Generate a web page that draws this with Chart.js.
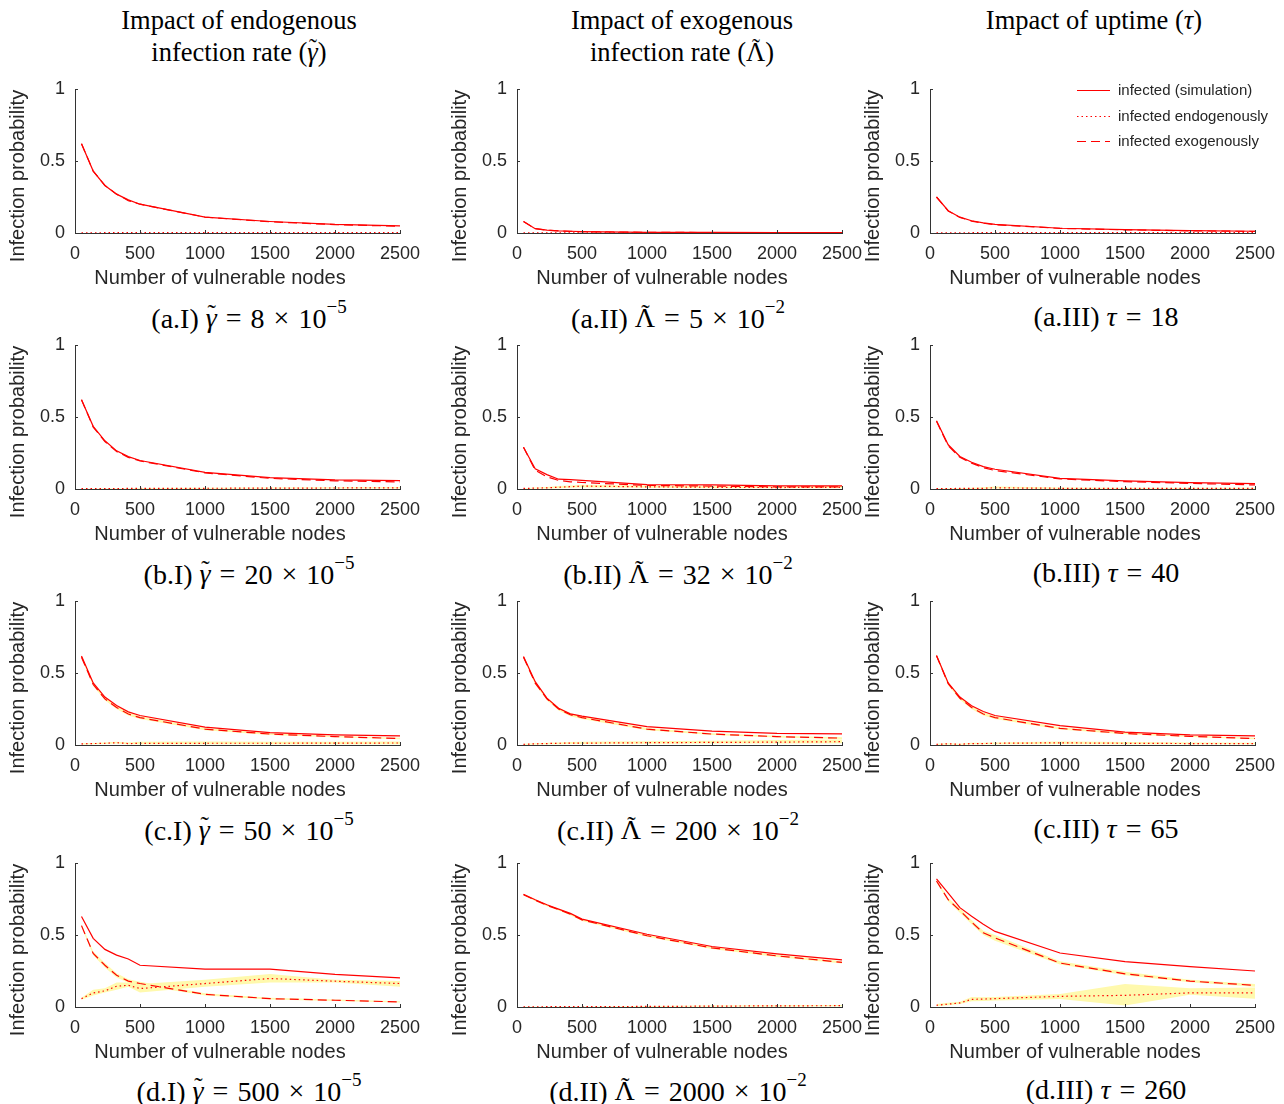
<!DOCTYPE html>
<html>
<head>
<meta charset="utf-8">
<script src="https://cdn.jsdelivr.net/npm/chart.js@4/dist/chart.umd.min.js"></script>
<style>
  body { margin: 0; background: #fff; }
  #page { position: relative; width: 1284px; height: 1104px; overflow: hidden; }
  .panel { position: absolute; }
  .txt {
    position: absolute; transform: translate(-50%, -50%);
    font-family: "Liberation Serif", "DejaVu Serif", serif; font-size: 26.5px;
    color: #000; white-space: nowrap; line-height: 1;
  }
  .cap { font-size: 28px; }
  .txt sup { font-size: 19px; position: relative; top: -4px; }
  .op { margin: 0 9px; }
  .tl { position: relative; display: inline-block; }
  .tl::after {
    content: '\02DC'; position: absolute; left: 50%; top: -0.14em;
    transform: translateX(-45%); font-style: normal; font-size: 0.9em;
  }
</style>
</head>
<body>
<div id="page">
  <div class="txt" style="left:239px;top:20px">Impact of endogenous</div>
  <div class="txt" style="left:239px;top:52px">infection rate (<i class="tl">γ</i>)</div>
  <div class="txt" style="left:682px;top:20px">Impact of exogenous</div>
  <div class="txt" style="left:682px;top:52px">infection rate (<span class="tl">Λ</span>)</div>
  <div class="txt" style="left:1094px;top:20px">Impact of uptime (<i>τ</i>)</div>

  <div class="txt cap" style="left:249px;top:317px">(a.I) <i class="tl">γ</i><span class="op">=</span>8<span class="op">×</span>10<sup>−5</sup></div>
  <div class="txt cap" style="left:678px;top:317px">(a.II) <span class="tl">Λ</span><span class="op">=</span>5<span class="op">×</span>10<sup>−2</sup></div>
  <div class="txt cap" style="left:1106px;top:317px">(a.III) <i>τ</i><span class="op">=</span>18</div>
  <div class="txt cap" style="left:249px;top:573px">(b.I) <i class="tl">γ</i><span class="op">=</span>20<span class="op">×</span>10<sup>−5</sup></div>
  <div class="txt cap" style="left:678px;top:573px">(b.II) <span class="tl">Λ</span><span class="op">=</span>32<span class="op">×</span>10<sup>−2</sup></div>
  <div class="txt cap" style="left:1106px;top:573px">(b.III) <i>τ</i><span class="op">=</span>40</div>
  <div class="txt cap" style="left:249px;top:829px">(c.I) <i class="tl">γ</i><span class="op">=</span>50<span class="op">×</span>10<sup>−5</sup></div>
  <div class="txt cap" style="left:678px;top:829px">(c.II) <span class="tl">Λ</span><span class="op">=</span>200<span class="op">×</span>10<sup>−2</sup></div>
  <div class="txt cap" style="left:1106px;top:829px">(c.III) <i>τ</i><span class="op">=</span>65</div>
  <div class="txt cap" style="left:249px;top:1090px">(d.I) <i class="tl">γ</i><span class="op">=</span>500<span class="op">×</span>10<sup>−5</sup></div>
  <div class="txt cap" style="left:678px;top:1090px">(d.II) <span class="tl">Λ</span><span class="op">=</span>2000<span class="op">×</span>10<sup>−2</sup></div>
  <div class="txt cap" style="left:1106px;top:1090px">(d.III) <i>τ</i><span class="op">=</span>260</div>
</div>
<script>
// x positions shared by every panel (number of vulnerable nodes)
const nodes = [50, 140, 230, 320, 410, 500, 1000, 1500, 2000, 2500];
const xTicks = [0, 500, 1000, 1500, 2000, 2500];
const yTicks = [0, 0.5, 1];
const seriesNames = ['infected (simulation)', 'infected endogenously', 'infected exogenously'];

// row a
const aI_sim  = [0.62, 0.43, 0.33, 0.27, 0.23, 0.20, 0.11, 0.08, 0.06, 0.05];
const aI_exo  = [0.62, 0.43, 0.33, 0.27, 0.225, 0.20, 0.11, 0.078, 0.058, 0.047];
const aI_endo = [0.001, 0.001, 0.002, 0.002, 0.002, 0.002, 0.002, 0.002, 0.002, 0.002];

const aII_sim  = [0.08, 0.03, 0.02, 0.015, 0.012, 0.01, 0.005, 0.004, 0.003, 0.002];
const aII_exo  = [0.08, 0.03, 0.019, 0.014, 0.011, 0.009, 0.005, 0.003, 0.002, 0.002];
const aII_endo = [0.001, 0.001, 0.001, 0.001, 0.001, 0.001, 0.001, 0.001, 0.001, 0.001];

const aIII_sim  = [0.25, 0.155, 0.11, 0.085, 0.07, 0.06, 0.033, 0.023, 0.016, 0.012];
const aIII_exo  = [0.25, 0.153, 0.108, 0.083, 0.068, 0.058, 0.032, 0.022, 0.015, 0.011];
const aIII_endo = [0.001, 0.001, 0.001, 0.002, 0.002, 0.002, 0.002, 0.002, 0.002, 0.002];

// row b
const bI_sim      = [0.62, 0.435, 0.335, 0.265, 0.225, 0.198, 0.116, 0.079, 0.063, 0.058];
const bI_exo      = [0.62, 0.43, 0.33, 0.26, 0.22, 0.195, 0.112, 0.074, 0.057, 0.049];
const bI_endo     = [0.002, 0.002, 0.003, 0.003, 0.004, 0.004, 0.005, 0.006, 0.007, 0.008];
const bI_endoLow  = [0.001, 0.001, 0.001, 0.001, 0.002, 0.002, 0.002, 0.003, 0.003, 0.003];
const bI_endoHigh = [0.003, 0.004, 0.005, 0.005, 0.006, 0.007, 0.009, 0.011, 0.012, 0.014];

const bII_sim      = [0.29, 0.14, 0.1, 0.068, 0.065, 0.06, 0.03, 0.028, 0.022, 0.022];
const bII_exo      = [0.29, 0.13, 0.085, 0.06, 0.05, 0.045, 0.025, 0.02, 0.015, 0.015];
const bII_endo     = [0.004, 0.006, 0.008, 0.012, 0.016, 0.02, 0.015, 0.012, 0.01, 0.012];
const bII_endoLow  = [0.002, 0.003, 0.004, 0.006, 0.008, 0.01, 0.008, 0.006, 0.005, 0.006];
const bII_endoHigh = [0.006, 0.01, 0.014, 0.02, 0.025, 0.03, 0.025, 0.02, 0.018, 0.02];

const bIII_sim      = [0.474, 0.307, 0.226, 0.186, 0.155, 0.137, 0.074, 0.056, 0.044, 0.037];
const bIII_exo      = [0.47, 0.3, 0.22, 0.18, 0.148, 0.128, 0.07, 0.051, 0.039, 0.028];
const bIII_endo     = [0.003, 0.003, 0.004, 0.004, 0.005, 0.008, 0.005, 0.004, 0.004, 0.005];
const bIII_endoLow  = [0.001, 0.001, 0.002, 0.002, 0.002, 0.003, 0.002, 0.002, 0.002, 0.002];
const bIII_endoHigh = [0.005, 0.006, 0.007, 0.008, 0.012, 0.018, 0.01, 0.008, 0.008, 0.009];

// row c
const cI_sim      = [0.618, 0.431, 0.333, 0.275, 0.23, 0.205, 0.124, 0.086, 0.07, 0.063];
const cI_exo      = [0.61, 0.42, 0.32, 0.26, 0.215, 0.19, 0.11, 0.076, 0.058, 0.045];
const cI_exoLow   = [0.6, 0.41, 0.31, 0.25, 0.205, 0.18, 0.102, 0.07, 0.053, 0.04];
const cI_exoHigh  = [0.62, 0.43, 0.33, 0.27, 0.225, 0.2, 0.118, 0.082, 0.063, 0.05];
const cI_endo     = [0.008, 0.01, 0.012, 0.016, 0.01, 0.011, 0.012, 0.012, 0.013, 0.014];
const cI_endoLow  = [0.004, 0.006, 0.007, 0.01, 0.006, 0.005, 0.005, 0.005, 0.006, 0.006];
const cI_endoHigh = [0.012, 0.014, 0.017, 0.022, 0.018, 0.022, 0.024, 0.022, 0.022, 0.024];

const cII_sim      = [0.615, 0.44, 0.325, 0.255, 0.216, 0.2, 0.128, 0.097, 0.081, 0.077];
const cII_exo      = [0.61, 0.43, 0.32, 0.25, 0.21, 0.19, 0.11, 0.076, 0.058, 0.048];
const cII_exoLow   = [0.6, 0.42, 0.31, 0.24, 0.2, 0.18, 0.102, 0.07, 0.052, 0.042];
const cII_exoHigh  = [0.62, 0.44, 0.33, 0.26, 0.22, 0.2, 0.118, 0.082, 0.064, 0.054];
const cII_endo     = [0.005, 0.008, 0.01, 0.012, 0.013, 0.013, 0.016, 0.018, 0.02, 0.023];
const cII_endoLow  = [0.002, 0.004, 0.005, 0.006, 0.007, 0.007, 0.009, 0.01, 0.011, 0.012];
const cII_endoHigh = [0.008, 0.012, 0.015, 0.018, 0.02, 0.022, 0.026, 0.03, 0.034, 0.038];

const cIII_sim      = [0.622, 0.431, 0.333, 0.273, 0.233, 0.205, 0.135, 0.089, 0.07, 0.063];
const cIII_exo      = [0.62, 0.425, 0.325, 0.26, 0.215, 0.19, 0.115, 0.08, 0.06, 0.045];
const cIII_exoLow   = [0.61, 0.415, 0.315, 0.25, 0.205, 0.18, 0.107, 0.074, 0.055, 0.04];
const cIII_exoHigh  = [0.63, 0.435, 0.335, 0.27, 0.225, 0.2, 0.123, 0.086, 0.065, 0.05];
const cIII_endo     = [0.005, 0.008, 0.005, 0.01, 0.01, 0.012, 0.015, 0.012, 0.01, 0.01];
const cIII_endoLow  = [0.002, 0.004, 0.002, 0.005, 0.005, 0.006, 0.007, 0.006, 0.005, 0.005];
const cIII_endoHigh = [0.008, 0.012, 0.009, 0.016, 0.016, 0.018, 0.024, 0.02, 0.018, 0.016];

// row d
const dI_sim      = [0.628, 0.477, 0.40, 0.36, 0.333, 0.29, 0.263, 0.263, 0.226, 0.202];
const dI_exo      = [0.565, 0.372, 0.29, 0.22, 0.18, 0.163, 0.088, 0.058, 0.047, 0.035];
const dI_exoLow   = [0.555, 0.36, 0.275, 0.205, 0.168, 0.152, 0.08, 0.052, 0.042, 0.031];
const dI_exoHigh  = [0.575, 0.385, 0.305, 0.235, 0.192, 0.175, 0.096, 0.064, 0.052, 0.04];
const dI_endo     = [0.058, 0.098, 0.112, 0.144, 0.151, 0.128, 0.163, 0.198, 0.179, 0.163];
const dI_endoLow  = [0.05, 0.08, 0.1, 0.12, 0.14, 0.1, 0.14, 0.17, 0.17, 0.14];
const dI_endoHigh = [0.065, 0.12, 0.13, 0.17, 0.17, 0.16, 0.19, 0.23, 0.19, 0.18];

const dII_sim      = [0.783, 0.745, 0.71, 0.68, 0.65, 0.61, 0.505, 0.42, 0.369, 0.327];
const dII_exo      = [0.78, 0.742, 0.706, 0.676, 0.645, 0.605, 0.495, 0.41, 0.355, 0.31];
const dII_exoLow   = [0.775, 0.736, 0.7, 0.67, 0.638, 0.598, 0.488, 0.402, 0.347, 0.302];
const dII_exoHigh  = [0.785, 0.748, 0.712, 0.682, 0.652, 0.612, 0.502, 0.418, 0.363, 0.318];
const dII_endo     = [0.001, 0.001, 0.002, 0.002, 0.002, 0.002, 0.004, 0.006, 0.008, 0.009];
const dII_endoLow  = [0, 0, 0.001, 0.001, 0.001, 0.001, 0.002, 0.003, 0.004, 0.005];
const dII_endoHigh = [0.002, 0.002, 0.003, 0.003, 0.004, 0.004, 0.007, 0.01, 0.013, 0.014];

const dIII_sim      = [0.89, 0.79, 0.69, 0.63, 0.575, 0.525, 0.375, 0.315, 0.28, 0.25];
const dIII_exo      = [0.875, 0.745, 0.67, 0.59, 0.515, 0.48, 0.305, 0.23, 0.18, 0.15];
const dIII_exoLow   = [0.865, 0.735, 0.655, 0.575, 0.5, 0.46, 0.295, 0.22, 0.172, 0.14];
const dIII_exoHigh  = [0.885, 0.755, 0.685, 0.605, 0.53, 0.5, 0.318, 0.245, 0.19, 0.16];
const dIII_endo     = [0.012, 0.02, 0.028, 0.053, 0.055, 0.058, 0.074, 0.081, 0.098, 0.098];
const dIII_endoLow  = [0.005, 0.012, 0.02, 0.04, 0.042, 0.045, 0.055, 0.01, 0.085, 0.058];
const dIII_endoHigh = [0.02, 0.03, 0.036, 0.07, 0.068, 0.07, 0.09, 0.16, 0.13, 0.135];

const RED = '#ff0000';
const BAND = '#fff9ad';
const AXIS = '#333333';
const TEXT = '#262626';
const DOTS = [1.5, 3];
const DASHES = [9, 5];

// plot-area corners for the 3 columns and 4 rows
const colLeft = [75, 517, 930];
const rowTop = [89, 345, 601, 863];

const panels = [
  { col: 0, row: 0, sim: aI_sim, endo: aI_endo, exo: aI_exo },
  { col: 1, row: 0, sim: aII_sim, endo: aII_endo, exo: aII_exo },
  { col: 2, row: 0, sim: aIII_sim, endo: aIII_endo, exo: aIII_exo, legend: true },
  { col: 0, row: 1, sim: bI_sim, endo: bI_endo, exo: bI_exo, endoBand: [bI_endoLow, bI_endoHigh] },
  { col: 1, row: 1, sim: bII_sim, endo: bII_endo, exo: bII_exo, endoBand: [bII_endoLow, bII_endoHigh] },
  { col: 2, row: 1, sim: bIII_sim, endo: bIII_endo, exo: bIII_exo, endoBand: [bIII_endoLow, bIII_endoHigh] },
  { col: 0, row: 2, sim: cI_sim, endo: cI_endo, exo: cI_exo, endoBand: [cI_endoLow, cI_endoHigh], exoBand: [cI_exoLow, cI_exoHigh] },
  { col: 1, row: 2, sim: cII_sim, endo: cII_endo, exo: cII_exo, endoBand: [cII_endoLow, cII_endoHigh], exoBand: [cII_exoLow, cII_exoHigh] },
  { col: 2, row: 2, sim: cIII_sim, endo: cIII_endo, exo: cIII_exo, endoBand: [cIII_endoLow, cIII_endoHigh], exoBand: [cIII_exoLow, cIII_exoHigh] },
  { col: 0, row: 3, sim: dI_sim, endo: dI_endo, exo: dI_exo, endoBand: [dI_endoLow, dI_endoHigh], exoBand: [dI_exoLow, dI_exoHigh] },
  { col: 1, row: 3, sim: dII_sim, endo: dII_endo, exo: dII_exo, endoBand: [dII_endoLow, dII_endoHigh], exoBand: [dII_exoLow, dII_exoHigh] },
  { col: 2, row: 3, sim: dIII_sim, endo: dIII_endo, exo: dIII_exo, endoBand: [dIII_endoLow, dIII_endoHigh], exoBand: [dIII_exoLow, dIII_exoHigh] },
];

const toPoints = arr => nodes.map((n, i) => ({ x: n, y: arr[i] }));

// inward tick marks plus the two axis titles
const axisDecor = {
  id: 'axisDecor',
  afterDraw(chart) {
    const { ctx, chartArea: a, scales: { x, y } } = chart;
    ctx.save();
    ctx.strokeStyle = AXIS;
    ctx.lineWidth = 1;
    ctx.beginPath();
    xTicks.slice(1).forEach(v => {
      const px = Math.round(x.getPixelForValue(v)) + 0.5;
      ctx.moveTo(px, a.bottom);
      ctx.lineTo(px, a.bottom - 3);
    });
    yTicks.slice(1).forEach(v => {
      const py = Math.round(y.getPixelForValue(v)) + 0.5;
      ctx.moveTo(a.left, py);
      ctx.lineTo(a.left + 3, py);
    });
    ctx.stroke();
    ctx.fillStyle = TEXT;
    ctx.font = '20px "Liberation Sans", Arial, sans-serif';
    ctx.textAlign = 'center';
    ctx.textBaseline = 'middle';
    ctx.fillText('Number of vulnerable nodes', a.left + 145, a.bottom + 45);
    ctx.translate(a.left - 57, a.top + 87);
    ctx.rotate(-Math.PI / 2);
    ctx.fillText('Infection probability', 0, 0);
    ctx.restore();
  }
};

// legend in the top right corner of the uptime panel
const cornerLegend = {
  id: 'cornerLegend',
  afterDraw(chart) {
    const { ctx, chartArea: a } = chart;
    ctx.save();
    ctx.font = '15px "Liberation Sans", Arial, sans-serif';
    ctx.textBaseline = 'middle';
    ctx.textAlign = 'left';
    chart.data.datasets.slice(0, 3).forEach((ds, i) => {
      const y = Math.round(a.top + 1 + i * 25.5) + 0.5;
      ctx.strokeStyle = RED;
      ctx.lineWidth = 1.2;
      ctx.setLineDash(ds.borderDash || []);
      ctx.beginPath();
      ctx.moveTo(a.right - 178, y);
      ctx.lineTo(a.right - 145, y);
      ctx.stroke();
      ctx.fillStyle = TEXT;
      ctx.fillText(ds.label, a.right - 137, y);
    });
    ctx.restore();
  }
};

function buildDatasets(p) {
  const line = (label, arr, dash) => ({
    label, data: toPoints(arr), borderColor: RED, borderWidth: 1.2,
    borderDash: dash, borderCapStyle: 'butt', pointRadius: 0, fill: false, order: 0
  });
  const sets = [
    line(seriesNames[0], p.sim, []),
    line(seriesNames[1], p.endo, DOTS),
    line(seriesNames[2], p.exo, DASHES),
  ];
  [p.endoBand, p.exoBand].forEach(band => {
    if (!band) return;
    sets.push({ label: 'low', data: toPoints(band[0]), borderWidth: 0, pointRadius: 0, fill: false, order: 5 });
    sets.push({ label: 'high', data: toPoints(band[1]), borderWidth: 0, pointRadius: 0,
      backgroundColor: BAND, fill: '-1', order: 5 });
  });
  return sets;
}

// keep the plot area where the layout padding puts it
const noScalePadding = s => {
  s.paddingTop = 0; s.paddingBottom = 0; s.paddingLeft = 0; s.paddingRight = 0;
};

const tickFont = { family: '"Liberation Sans", Arial, sans-serif', size: 18 };
const page = document.getElementById('page');

panels.forEach(p => {
  const canvas = document.createElement('canvas');
  canvas.className = 'panel';
  canvas.width = 425;
  canvas.height = 222;
  canvas.style.left = (colLeft[p.col] - 75) + 'px';
  canvas.style.top = (rowTop[p.row] - 12) + 'px';
  canvas.style.width = '425px';
  canvas.style.height = '222px';
  page.appendChild(canvas);

  new Chart(canvas.getContext('2d'), {
    type: 'line',
    data: { datasets: buildDatasets(p) },
    options: {
      responsive: false,
      animation: false,
      devicePixelRatio: 1,
      events: [],
      layout: { padding: { left: 0, top: 12, right: 25, bottom: 0 } },
      plugins: { legend: { display: false }, tooltip: { enabled: false } },
      elements: { line: { tension: 0 } },
      scales: {
        x: {
          type: 'linear', min: 0, max: 2500,
          afterBuildTicks: s => { s.ticks = xTicks.map(v => ({ value: v })); },
          afterFit: s => { s.height = 66; noScalePadding(s); },
          grid: { drawOnChartArea: false, drawTicks: false },
          border: { color: AXIS, width: 1 },
          ticks: { font: tickFont, color: TEXT, padding: 10, maxRotation: 0, autoSkip: false,
            callback: v => String(v) }
        },
        y: {
          type: 'linear', min: 0, max: 1,
          afterBuildTicks: s => { s.ticks = yTicks.map(v => ({ value: v })); },
          afterFit: s => { s.width = 75; noScalePadding(s); },
          grid: { drawOnChartArea: false, drawTicks: false },
          border: { color: AXIS, width: 1 },
          ticks: { font: tickFont, color: TEXT, padding: 10, callback: v => String(v) }
        }
      }
    },
    plugins: p.legend ? [axisDecor, cornerLegend] : [axisDecor]
  });
});
</script>
</body>
</html>
